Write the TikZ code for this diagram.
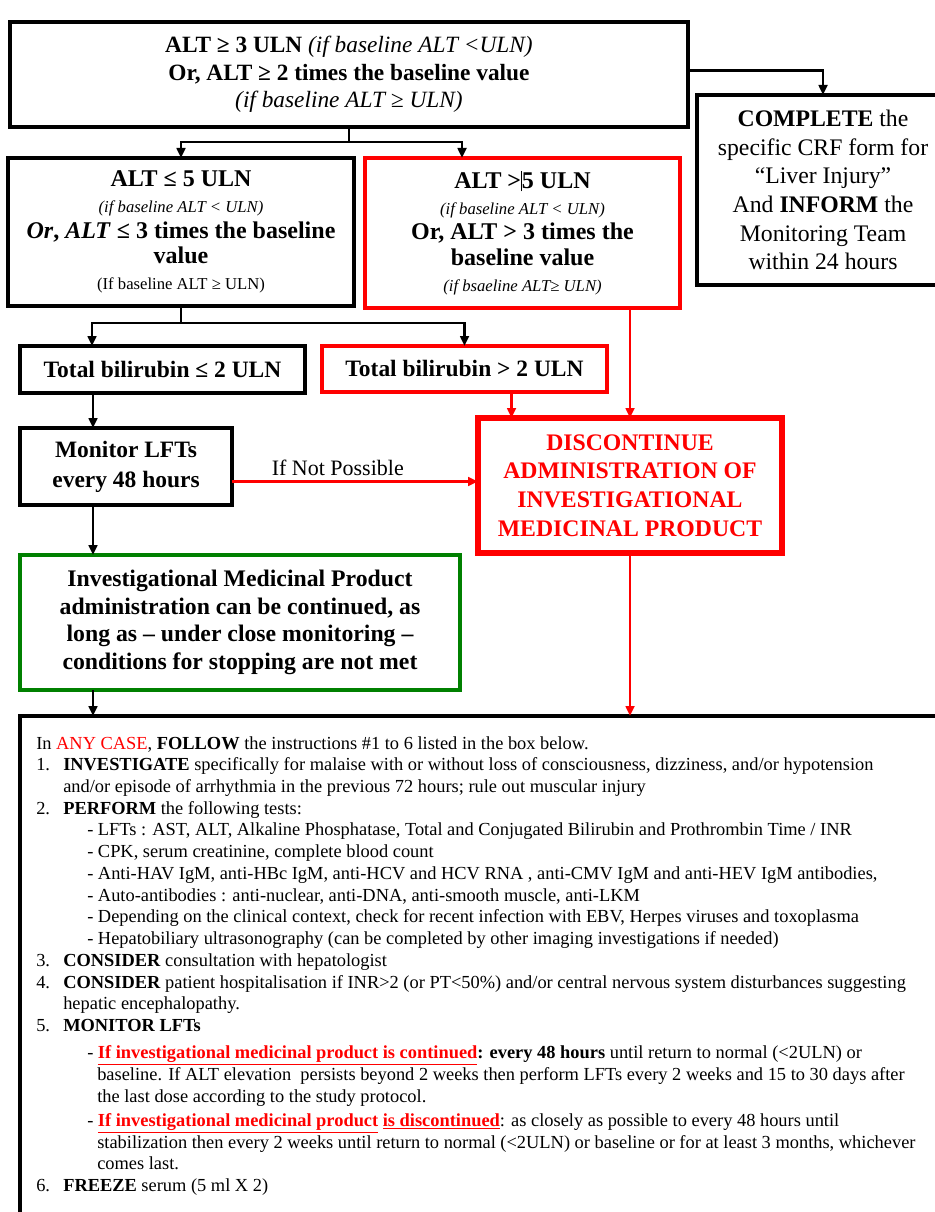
\documentclass[tikz,border=0pt]{standalone}
\usepackage{fontspec}
\setmainfont{Liberation Serif}
\usetikzlibrary{arrows.meta}
\usetikzlibrary{calc,positioning}

\definecolor{stopred}{RGB}{255,0,0}
\definecolor{okgreen}{RGB}{0,128,0}

\newcommand{\itemno}[1]{\makebox[20.25pt][l]{#1}}
\newcommand{\goon}{\hspace*{20.25pt}}
\newcommand{\subdash}{\hspace*{38.25pt}}
\newcommand{\subgo}{\hspace*{45.75pt}}

\begin{document}
\begin{tikzpicture}[x=0.75pt,y=-0.75pt]
    \def\px{0.75pt}

    \tikzstyle{blkbox}=[draw,line width=3pt,outer sep=0pt,align=center,inner sep=0pt]
    \tikzstyle{redbox}=[draw=stopred,line width=2.5pt,outer sep=0pt,align=center,inner sep=0pt]
    \tikzstyle{conn}=[line width=2pt,-{Triangle[length=7.5pt,width=6.5pt]}]
    \tikzstyle{redconn}=[conn,draw=stopred,fill=stopred]

    \useasboundingbox (0,0) rectangle (934,1212);

    % Criteria
    \node[blkbox,font=\fontsize{17.5}{20.6}\selectfont] (top) at (349,74.5) [minimum width=678*\px, minimum height=105*\px]
    {\textbf{ALT ≥ 3 ULN} \textit{(if baseline ALT <ULN)}\\
     \textbf{Or, ALT ≥ 2 times the baseline value}\\
     \textit{(if baseline ALT ≥ ULN)}};
    \node[blkbox,font=\fontsize{17.8}{21.5}\selectfont] (crf) at (823,190) [minimum width=252*\px, minimum height=190*\px]
    {\textbf{COMPLETE} the\\ specific CRF form for\\ “Liver Injury”\\ And \textbf{INFORM} the\\ Monitoring Team\\ within 24 hours};
    \node[blkbox,font=\fontsize{18}{19.2}\selectfont] (low) at (181,232) [minimum width=346*\px, minimum height=148*\px]
    {\textbf{ALT ≤ 5 ULN}\\
     {\fontsize{12.5}{13}\selectfont\textit{(if baseline ALT < ULN)}}\\
     \textbf{\textit{Or}, \textit{ALT} ≤ 3 times the baseline}\\
     \textbf{value}\\
     {\fontsize{12.5}{13}\selectfont(If baseline ALT ≥ ULN)}};
    \node[redbox,font=\fontsize{18}{19.2}\selectfont] (high) at (522.5,233) [minimum width=315*\px, minimum height=150*\px]
    {\textbf{ALT >\rule[-2pt]{0.6pt}{15pt}5 ULN}\\
     {\fontsize{12.5}{13}\selectfont\textit{(if baseline ALT < ULN)}}\\
     \textbf{Or, ALT > 3 times the}\\
     \textbf{baseline value}\\
     {\fontsize{12.5}{13}\selectfont\textit{(if bsaeline ALT≥ ULN)}}};

    % Bilirubin
    \node[blkbox,font=\bfseries\fontsize{17.6}{19}\selectfont] (bilLow) at (162.5,369.5) [minimum width=285*\px, minimum height=47*\px] {Total bilirubin ≤ 2 ULN};
    \node[redbox,line width=3pt,font=\bfseries\fontsize{17.6}{19}\selectfont] (bilHigh) at (464.5,369) [minimum width=285*\px, minimum height=46*\px] {Total bilirubin > 2 ULN};

    % Actions
    \node[blkbox,line width=3.5pt,font=\bfseries\fontsize{17.6}{22.5}\selectfont] (monitor) at (126,466.5) [minimum width=212*\px, minimum height=77*\px] {Monitor LFTs\\ every 48 hours};
    \node[redbox,line width=4.5pt,text=stopred,font=\bfseries\fontsize{17.8}{21.5}\selectfont] (stop) at (630,485.5) [minimum width=304*\px, minimum height=135*\px]
    {DISCONTINUE\\ ADMINISTRATION OF\\ INVESTIGATIONAL\\ MEDICINAL PRODUCT};
    \node[blkbox,draw=okgreen,font=\bfseries\fontsize{17.8}{20.8}\selectfont] (cont) at (240,622.5) [minimum width=440*\px, minimum height=135*\px]
    {Investigational Medicinal Product\\ administration can be continued, as\\ long as – under close monitoring –\\ conditions for stopping are not met};

    % Instructions
    \node[blkbox,anchor=north west] (follow) at (20,716) [minimum width=940*\px, minimum height=540*\px] {};
    \node[anchor=north west,align=left,inner sep=0pt,font=\fontsize{13.8}{16.3}\selectfont] (rules) at ($(follow.north west)+(16,20)$)
    {In {\color{stopred}ANY CASE}, \textbf{FOLLOW} the instructions \#1 to 6 listed in the box below.\\
     \itemno{1.}\textbf{INVESTIGATE} specifically for malaise with or without loss of consciousness, dizziness, and/or hypotension\\
     \goon and/or episode of arrhythmia in the previous 72 hours; rule out muscular injury\\
     \itemno{2.}\textbf{PERFORM} the following tests:\\
     \subdash- LFTs : AST, ALT, Alkaline Phosphatase, Total and Conjugated Bilirubin and Prothrombin Time / INR\\
     \subdash- CPK, serum creatinine, complete blood count\\
     \subdash- Anti-HAV IgM, anti-HBc IgM, anti-HCV and HCV RNA , anti-CMV IgM and anti-HEV IgM antibodies,\\
     \subdash- Auto-antibodies : anti-nuclear, anti-DNA, anti-smooth muscle, anti-LKM\\
     \subdash- Depending on the clinical context, check for recent infection with EBV, Herpes viruses and toxoplasma\\
     \subdash- Hepatobiliary ultrasonography (can be completed by other imaging investigations if needed)\\
     \itemno{3.}\textbf{CONSIDER} consultation with hepatologist\\
     \itemno{4.}\textbf{CONSIDER} patient hospitalisation if INR>2 (or PT<50\%) and/or central nervous system disturbances suggesting\\
     \goon hepatic encephalopathy.\\
     \itemno{5.}\textbf{MONITOR LFTs}\\[4pt]
     \subdash- {\color{stopred}\textbf{\underline{If investigational medicinal product is continued}}}\textbf{: every 48 hours} until return to normal (<2ULN) or\\
     \subgo baseline. If ALT elevation\ \ persists beyond 2 weeks then perform LFTs every 2 weeks and 15 to 30 days after\\
     \subgo the last dose according to the study protocol.\\[2pt]
     \subdash- {\color{stopred}\textbf{\underline{If investigational medicinal product}} \textbf{\underline{is discontinued}}}: as closely as possible to every 48 hours until\\
     \subgo stabilization then every 2 weeks until return to normal (<2ULN) or baseline or for at least 3 months, whichever\\
     \subgo comes last.\\
     \itemno{6.}\textbf{FREEZE} serum (5 ml X 2)};

    % Connectors
    \draw[conn] ($(top.east)+(0,-4)$) -| (crf.north);
    \coordinate (split1) at ($(top.south)+(0,15)$);
    \draw[line width=2pt] (top.south) -- (split1);
    \draw[conn] (split1) -| (low.north);
    \draw[conn] (split1) -| ($(high.north west)+(97,0)$);

    \coordinate (split2) at ($(low.south)+(0,17)$);
    \draw[line width=2pt] (low.south) -- (split2);
    \draw[conn] (split2) -| ($(bilLow.north west)+(72,0)$);
    \draw[conn] (split2) -| (bilHigh.north);

    \draw[redconn] (high.south -| stop.north) -- (stop.north);
    \coordinate (b2) at ($(bilHigh.south)+(47,0)$);
    \draw[redconn] (b2) -- (b2 |- stop.north);

    \coordinate (m1) at ($(monitor.north west)+(73,0)$);
    \draw[conn] (m1 |- bilLow.south) -- (m1);
    \draw[conn] (m1 |- monitor.south) -- (m1 |- cont.north);
    \draw[conn] (m1 |- cont.south) -- (m1 |- follow.north);

    \coordinate (np) at ($(monitor.east)+(0,15)$);
    \draw[redconn] (np) -- (np -| stop.west) node[pos=0.43,above,text=black,font=\fontsize{16.5}{18}\selectfont] {If Not Possible};
    \draw[redconn] (stop.south) -- (stop.south |- follow.north);
\end{tikzpicture}
\end{document}
